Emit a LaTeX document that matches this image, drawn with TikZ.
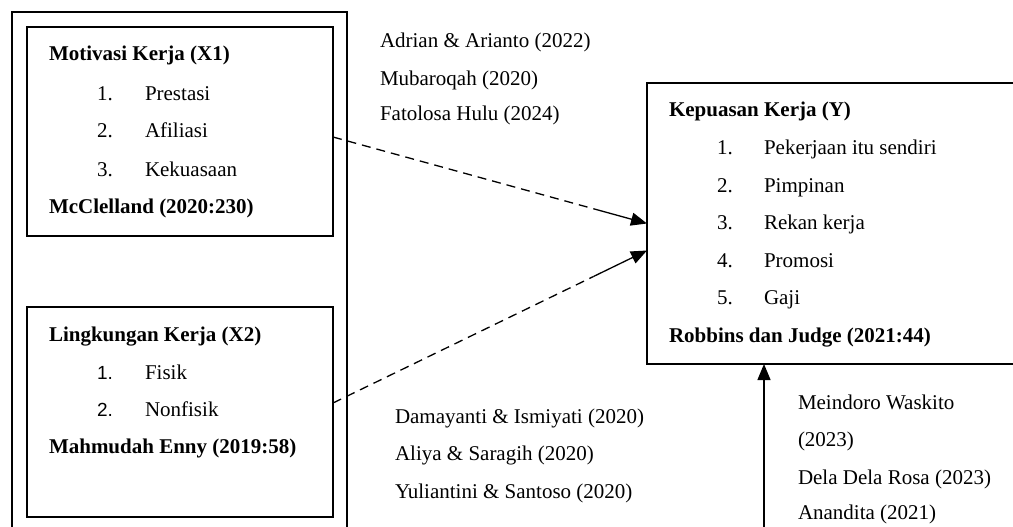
\documentclass[tikz,border=0pt]{standalone}
\usepackage{fontspec}
\setmainfont{Liberation Serif}
\newfontfamily\numsans{Liberation Sans}
\usetikzlibrary{arrows.meta,calc}
\tikzset{
  txt/.style={anchor=base west, inner sep=0pt, outer sep=0pt, font=\fontsize{21}{25}\selectfont},
  btxt/.style={txt, font=\fontsize{21}{25}\selectfont\bfseries},
  numsf/.style={anchor=base west, inner sep=0pt, outer sep=0pt, font=\fontsize{19}{23}\selectfont\numsans},
  varbox/.style={draw, line width=2.6pt, anchor=north west, inner sep=0pt, outer sep=0pt},
  thinbox/.style={draw, line width=1.2pt, anchor=north west, inner sep=0pt, outer sep=0pt},
  dashpart/.style={line width=1.3pt, dash pattern=on 9pt off 6pt},
  arrowpart/.style={line width=1.3pt, -{Triangle[length=16pt,width=13pt]}},
}
\begin{document}
\begin{tikzpicture}[x=1pt,y=-1pt]
\useasboundingbox (0,0) rectangle (1013,527);
% containers
\node[thinbox, minimum width=335pt, minimum height=540pt] (outer) at (12,12) {};
\node[varbox, minimum width=306pt, minimum height=209pt] (x1) at (27,27) {};
\node[varbox, minimum width=306pt, minimum height=210pt] (x2) at (27,307) {};
\node[varbox, minimum width=390pt, minimum height=281pt] (y) at (647,83) {};
% X1 texts
\node[btxt] (x1t) at (49,61) {Motivasi Kerja (X1)};
\node[txt] (x1n1) at (97,100) {1.};
\node[txt] (x1i1) at (145,100) {Prestasi};
\node[txt] (x1n2) at (97,138) {2.};
\node[txt] (x1i2) at (145,138) {Afiliasi};
\node[txt] (x1n3) at (97,176) {3.};
\node[txt] (x1i3) at (145,176) {Kekuasaan};
\node[btxt] (x1s) at (49,213.5) {McClelland (2020:230)};
% X2 texts
\node[btxt] (x2t) at (49,341) {Lingkungan Kerja (X2)};
\node[numsf] (x2n1) at (97,379) {1.};
\node[txt] (x2i1) at (145,379) {Fisik};
\node[numsf] (x2n2) at (97,416) {2.};
\node[txt] (x2i2) at (145,416) {Nonfisik};
\node[btxt] (x2s) at (49,453) {Mahmudah Enny (2019:58)};
% Y texts
\node[btxt] (yt) at (669,117) {Kepuasan Kerja (Y)};
\node[txt] (yn1) at (717,154.5) {1.};
\node[txt] (yi1) at (764,154.5) {Pekerjaan itu sendiri};
\node[txt] (yn2) at (717,192) {2.};
\node[txt] (yi2) at (764,192) {Pimpinan};
\node[txt] (yn3) at (717,229.5) {3.};
\node[txt] (yi3) at (764,229.5) {Rekan kerja};
\node[txt] (yn4) at (717,267) {4.};
\node[txt] (yi4) at (764,267) {Promosi};
\node[txt] (yn5) at (717,304.5) {5.};
\node[txt] (yi5) at (764,304.5) {Gaji};
\node[btxt] (ys) at (669,342) {Robbins dan Judge (2021:44)};
% citations
\node[txt] (c1) at (380,48) {Adrian \& Arianto (2022)};
\node[txt] (c2) at (380,85) {Mubaroqah (2020)};
\node[txt] (c3) at (380,121) {Fatolosa Hulu (2024)};
\node[txt] (c4) at (395,423) {Damayanti \& Ismiyati (2020)};
\node[txt] (c5) at (395,460) {Aliya \& Saragih (2020)};
\node[txt] (c6) at (395,498) {Yuliantini \& Santoso (2020)};
\node[txt] (c7) at (798,409) {Meindoro Waskito};
\node[txt] (c8) at (798,446) {(2023)};
\node[txt] (c9) at (798,484) {Dela Dela Rosa (2023)};
\node[txt] (c10) at (798,519) {Anandita (2021)};
% connectors
\coordinate (a1s) at ([yshift=-5.5pt]x1.east);
\coordinate (a1e) at (y.west);
\coordinate (a1m) at ($(a1s)!0.83!(a1e)$);
\draw[dashpart] (a1s) -- (a1m);
\draw[arrowpart] (a1m) -- (a1e);
\coordinate (a2s) at ([yshift=9pt]x2.east);
\coordinate (a2e) at ([yshift=-27pt]y.west);
\coordinate (a2m) at ($(a2s)!0.83!(a2e)$);
\draw[dashpart] (a2s) -- (a2m);
\draw[arrowpart] (a2m) -- (a2e);
\coordinate (vb) at (764,535);
\draw[arrowpart] (vb) -- (vb |- y.south);
\end{tikzpicture}
\end{document}
